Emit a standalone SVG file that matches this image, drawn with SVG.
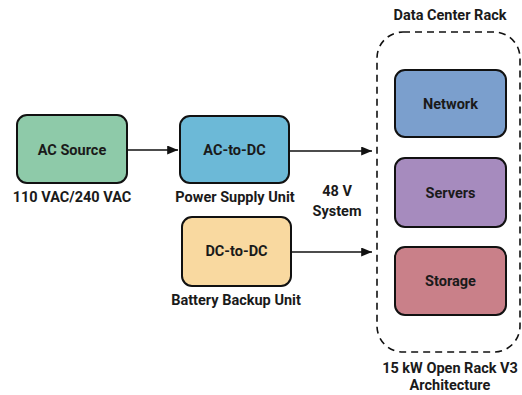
<svg xmlns="http://www.w3.org/2000/svg" width="522" height="395" viewBox="0 0 522 395">
<style>
.box{stroke:#111;stroke-width:2}
.t{font-family:Roboto,"Liberation Sans",sans-serif;font-weight:bold;font-size:14.5px;fill:#1a1a1a;text-anchor:middle}
.c{stroke:#111;stroke-width:1.5;fill:none}
</style>
<defs>
<marker id="ah" viewBox="0 0 12 10" refX="12" refY="5" markerWidth="12" markerHeight="9" markerUnits="userSpaceOnUse" orient="auto">
<path d="M0,0 L12,5 L0,10 z" fill="#111"/>
</marker>
</defs>
<rect width="522" height="395" fill="#fff"/>
<g id="rack">
<rect x="377" y="32" width="143" height="320" rx="26" fill="none" stroke="#111" stroke-width="1.6" stroke-dasharray="7,5"/>
<text class="t" x="450" y="20">Data Center Rack</text>
<text class="t" x="450" y="373">15 kW Open Rack V3</text>
<text class="t" x="450" y="390">Architecture</text>
</g>
<g id="ac-source">
<rect class="box" x="17" y="115" width="110" height="68" rx="10" fill="#8ecaa9"/>
<text class="t" x="72" y="155">AC Source</text>
<text class="t" x="72" y="202">110 VAC/240 VAC</text>
</g>
<g id="ac-dc">
<rect class="box" x="180" y="116" width="109" height="67" rx="10" fill="#6cb9d7"/>
<text class="t" x="234.5" y="155">AC-to-DC</text>
<text class="t" x="235" y="202">Power Supply Unit</text>
</g>
<g id="dc-dc">
<rect class="box" x="182" y="217" width="109" height="69" rx="10" fill="#f9d9a0"/>
<text class="t" x="236.5" y="256">DC-to-DC</text>
<text class="t" x="236" y="305">Battery Backup Unit</text>
</g>
<g id="label-48v">
<text class="t" x="337" y="196">48 V</text>
<text class="t" x="337" y="216">System</text>
</g>
<g id="network">
<rect class="box" x="395" y="70" width="111" height="67" rx="10" fill="#7b9fcd"/>
<text class="t" x="450.5" y="109">Network</text>
</g>
<g id="servers">
<rect class="box" x="395" y="158" width="111" height="69" rx="10" fill="#a68bbe"/>
<text class="t" x="450.5" y="198">Servers</text>
</g>
<g id="storage">
<rect class="box" x="395" y="247" width="111" height="68" rx="10" fill="#c98089"/>
<text class="t" x="450.5" y="286">Storage</text>
</g>
<g id="connectors">
<line class="c" x1="127" y1="150" x2="178" y2="150" marker-end="url(#ah)"/>
<line class="c" x1="289" y1="151" x2="372" y2="151" marker-end="url(#ah)"/>
<line class="c" x1="291" y1="252" x2="372" y2="252" marker-end="url(#ah)"/>
</g>
</svg>
